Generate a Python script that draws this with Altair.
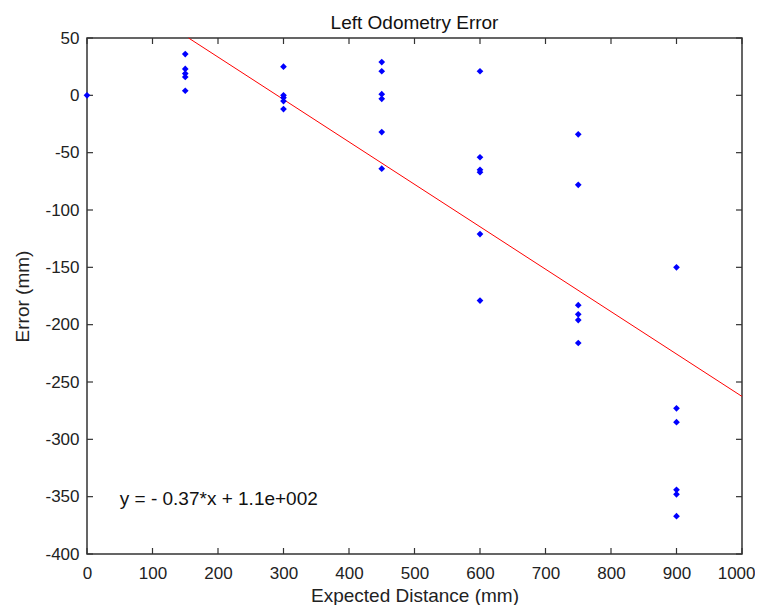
import altair as alt
import pandas as pd

# Measured data (Expected Distance mm -> Error mm)
x_0 = [0]
err_0 = [0]
x_150 = [150] * 5
err_150 = [36, 23, 19, 16, 4]
x_300 = [300] * 5
err_300 = [25, 0, -2, -5, -12]
x_450 = [450] * 6
err_450 = [29, 21, 1, -3, -32, -64]
x_600 = [600] * 6
err_600 = [21, -54, -65, -67, -121, -179]
x_750 = [750] * 6
err_750 = [-34, -78, -183, -191, -196, -216]
x_900 = [900] * 6
err_900 = [-150, -273, -285, -344, -348, -367]

# Fitted line, visible part (enters at top edge, leaves at right edge)
fit_x = [155.1, 1000]
fit_y = [50, -262.6]

x_ticks = [0, 100, 200, 300, 400, 500, 600, 700, 800, 900, 1000]
y_ticks = [50, 0, -50, -100, -150, -200, -250, -300, -350, -400]

title_text = ["Left Odometry Error"]
annotation = ["y = - 0.37*x + 1.1e+002"]
ann_x = [50]
ann_y = [-352]

W, H = 655, 516
FONT = "Liberation Sans"
AX = "#333333"

pts = pd.DataFrame({
    "x": x_0 + x_150 + x_300 + x_450 + x_600 + x_750 + x_900,
    "y": err_0 + err_150 + err_300 + err_450 + err_600 + err_750 + err_900,
})
fit = pd.DataFrame({"x": fit_x, "y": fit_y})
xt = pd.DataFrame({"t": x_ticks})
yt = pd.DataFrame({"t": y_ticks})
ann = pd.DataFrame({"x": ann_x, "y": ann_y, "label": annotation})
ttl = pd.DataFrame({"label": title_text})

xs = alt.Scale(domain=[0, 1000], nice=False, zero=False)
ys = alt.Scale(domain=[-400, 50], nice=False, zero=False)

xaxis = alt.Axis(values=x_ticks, labelExpr="'' + datum.value",
                 labelFontSize=17, labelPadding=11, labelFlush=False,
                 labelAlign={"condition": {"test": "datum.value == 1000", "value": "right"},
                             "value": "center"},
                 labelOffset={"condition": {"test": "datum.value == 1000", "value": 13},
                              "value": 0},
                 title="Expected Distance (mm)",
                 titleBaseline="alphabetic", titleY=47, titleX=W / 2)
yaxis = alt.Axis(values=y_ticks, labelExpr="'' + datum.value",
                 labelFontSize=17, labelPadding=8,
                 title="Error (mm)",
                 titleBaseline="middle", titleX=-65, titleY=H / 2, titleAngle=-90)

line = alt.Chart(fit).mark_line(color="#ff0000", strokeWidth=1).encode(
    x=alt.X("x:Q", scale=xs, axis=xaxis),
    y=alt.Y("y:Q", scale=ys, axis=yaxis),
)

points = alt.Chart(pts).mark_point(shape="diamond", filled=True, color="#0000ff",
                                   size=45, opacity=1).encode(
    x=alt.X("x:Q", scale=xs),
    y=alt.Y("y:Q", scale=ys),
)

tick_style = dict(color=AX, strokeWidth=1.2)
xt_bottom = alt.Chart(xt).mark_rule(**tick_style).encode(
    x=alt.X("t:Q", scale=xs), y=alt.value(H), y2=alt.value(H - 6))
xt_top = alt.Chart(xt).mark_rule(**tick_style).encode(
    x=alt.X("t:Q", scale=xs), y=alt.value(0), y2=alt.value(6))
yt_left = alt.Chart(yt).mark_rule(**tick_style).encode(
    y=alt.Y("t:Q", scale=ys), x=alt.value(0), x2=alt.value(6))
yt_right = alt.Chart(yt).mark_rule(**tick_style).encode(
    y=alt.Y("t:Q", scale=ys), x=alt.value(W), x2=alt.value(W - 6))

text = alt.Chart(ann).mark_text(align="left", baseline="middle", font=FONT,
                                fontSize=19, color="#111").encode(
    x=alt.X("x:Q", scale=xs), y=alt.Y("y:Q", scale=ys),
    text="label:N")

title = alt.Chart(ttl).mark_text(align="center", baseline="alphabetic", font=FONT,
                                 fontSize=19, color="#111").encode(
    x=alt.value(W / 2), y=alt.value(-9), text="label:N")

chart = alt.layer(line, xt_bottom, xt_top, yt_left, yt_right, points, text, title).properties(
    width=W, height=H,
    background="white",
    padding={"left": 79, "top": 30, "right": 13, "bottom": 51},
    autosize=alt.AutoSizeParams(type="none"),
).configure_axis(
    ticks=False, grid=False, domain=False, labelOverlap=False,
    labelFont=FONT, labelColor="#222", titleFont=FONT, titleFontSize=19,
    titleFontWeight="normal", titleColor="#222",
).configure_view(stroke=AX, strokeWidth=1.5)

chart.save("out.html", embed_options={"renderer": "svg", "actions": False})
